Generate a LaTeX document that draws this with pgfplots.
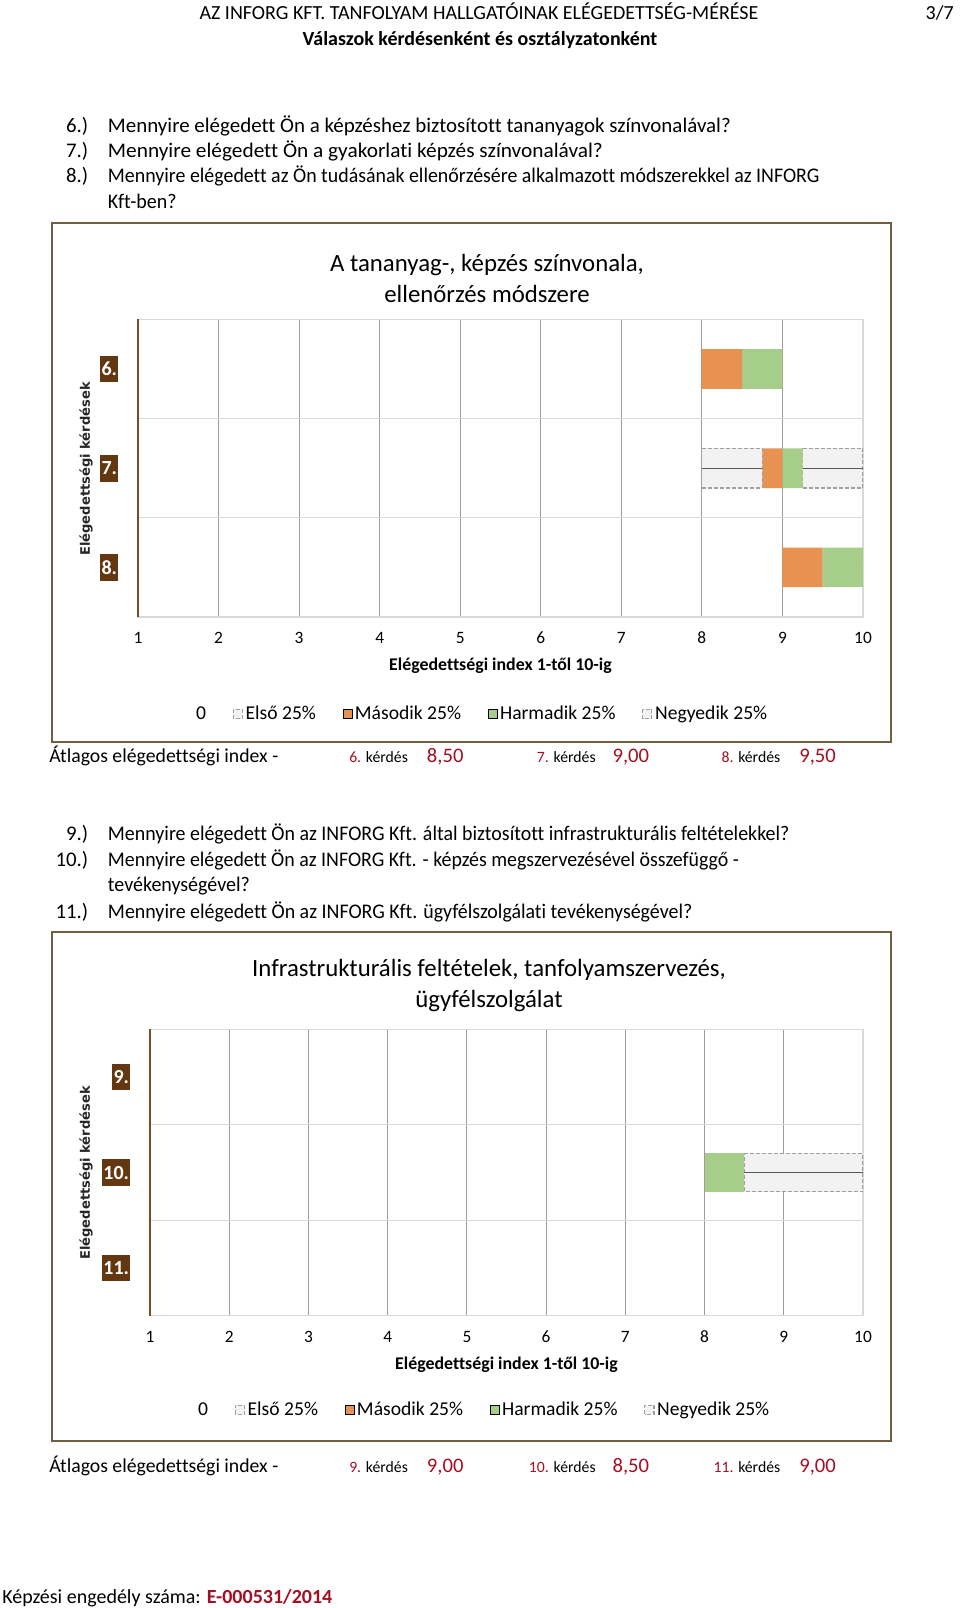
\documentclass[border=0pt]{standalone}
\usepackage{fontspec}
\setmainfont{Carlito}[Ligatures=NoCommon]
\newfontfamily\djv{DejaVu Sans}
\usepackage{pgfplots}
\pgfplotsset{compat=1.18}

\definecolor{framec}{RGB}{114,94,64}
\definecolor{catbox}{RGB}{99,55,15}
\definecolor{gridv}{RGB}{166,155,142}
\definecolor{gridh}{RGB}{217,217,217}
\definecolor{axisl}{RGB}{115,80,40}
\definecolor{q2}{RGB}{232,146,82}
\definecolor{q3}{RGB}{166,206,138}
\definecolor{wfill}{RGB}{242,242,242}
\definecolor{wdraw}{RGB}{160,160,160}
\definecolor{wline}{RGB}{89,89,89}
\definecolor{dred}{RGB}{165,15,35}

\pgfplotsset{
  boxchart/.style={
    scale only axis,
    xmin=1, xmax=10, ymin=0.5, ymax=3.5, y dir=reverse,
    xtick={1,...,10}, ytick={1,2,3},
    minor ytick={1.5,2.5},
    /pgf/number format/assume math mode=true,
    xmajorgrids=true, yminorgrids=true,
    major grid style={draw=gridv, line width=0.6pt},
    minor grid style={draw=gridh, line width=0.8pt},
    axis line style={draw=gridh, line width=0.8pt},
    tick style={draw=none},
    xticklabel style={font=\fontsize{13}{15}\selectfont, anchor=base, yshift=-20pt},
    yticklabel style={font=\bfseries\fontsize{15}{17}\selectfont, text=white,
      fill=catbox, inner xsep=1pt, inner ysep=0pt, minimum height=20pt,
      anchor=east, xshift=-14.5pt},
    xlabel={Elégedettségi index 1-től 10-ig},
    xlabel style={font=\bfseries\fontsize{13.4}{16}\selectfont,
      at={(axis description cs:0.5,0)}, anchor=base, yshift=-40pt},
    xbar stacked, bar width=0.4,
    legend columns=-1,
    legend style={draw=none, fill=none, font=\fontsize{14.7}{17}\selectfont,
      anchor=center, /tikz/every even column/.append style={column sep=18pt}},
    legend image code/.code={\draw[#1] (0pt,-3.4pt) rectangle (6.8pt,3.4pt);},
    after end axis/.code={\draw[axisl, line width=0.8pt]
      (rel axis cs:0,0) -- (rel axis cs:0,1);},
  },
  whisk/.style={fill=wfill, draw=wdraw, dash pattern=on 3pt off 1.5pt,
    line width=0.9pt,
    error bars/x dir=minus, error bars/x explicit, error bars/error mark=none,
    error bars/error bar style={wline, solid, line width=1pt}},
  basebar/.style={draw=none, fill=none, legend image code/.code={}},
}

\begin{document}
\begin{tikzpicture}
\fill[white] (0,0) rectangle (720pt,1206pt);

% ---- chart 1: tananyag, kepzes, ellenorzes
\begin{axis}[boxchart, at={(103.5pt,743.25pt)}, anchor=south west,
  width=543.75pt, height=223.125pt,
  yticklabels={6.,7.,8.},
  legend style={at={(0.474,-0.326)}}]
  % min, Q1-min, med-Q1, Q3-med, max-Q3
  \addplot[basebar] coordinates {(8,1) (8,2) (9,3)};
  \addplot[whisk] coordinates {(0,1) -= (0,0) (0.75,2) -= (0.75,0) (0,3) -= (0,0)};
  \addplot[fill=q2, draw=none] coordinates {(0.5,1) (0.25,2) (0.5,3)};
  \addplot[fill=q3, draw=none] coordinates {(0.5,1) (0.25,2) (0.5,3)};
  \addplot[whisk] coordinates {(0,1) -= (0,0) (0.75,2) -= (0.75,0) (0,3) -= (0,0)};
  \legend{0,Első 25\%,Második 25\%,Harmadik 25\%,Negyedik 25\%}
\end{axis}

% ---- chart 2: infrastruktura, szervezes, ugyfelszolgalat
\begin{axis}[boxchart, at={(112.5pt,219.2pt)}, anchor=south west,
  width=534.75pt, height=214.8pt,
  yticklabels={9.,10.,11.},
  legend style={at={(0.468,-0.329)}}]
  \addplot[basebar] coordinates {(9,1) (8,2) (9,3)};
  \addplot[whisk] coordinates {(0,1) -= (0,0) (0,2) -= (0,0) (0,3) -= (0,0)};
  \addplot[fill=q2, draw=none] coordinates {(0,1) (0,2) (0,3)};
  \addplot[fill=q3, draw=none] coordinates {(0,1) (0.5,2) (0,3)};
  \addplot[whisk] coordinates {(0,1) -= (0,0) (1.5,2) -= (1.5,0) (0,3) -= (0,0)};
  \legend{0,Első 25\%,Második 25\%,Harmadik 25\%,Negyedik 25\%}
\end{axis}

\begin{scope}[x=0.75pt, y=0.75pt, every node/.append style={inner xsep=0pt}]
  % header
  \node[anchor=base, font=\fontsize{15}{18}\selectfont] at (479,1588.4)
    {AZ INFORG KFT. TANFOLYAM HALLGATÓINAK ELÉGEDETTSÉG-MÉRÉSE};
  \node[anchor=base east, font=\fontsize{15}{18}\selectfont] at (954,1588.4) {3/7};
  \node[anchor=base, font=\bfseries\fontsize{15}{18}\selectfont] at (480,1562.9)
    {Válaszok kérdésenként és osztályzatonként};

  % questions 6-8
  \begin{scope}[every node/.append style={font=\fontsize{15.6}{19}\selectfont}]
    \node[anchor=base east] at (88.5,1475.1) {6.)};
    \node[anchor=base west] at (107.7,1475.1) {\scalebox{1.008}[1]{Mennyire elégedett Ön a képzéshez biztosított tananyagok színvonalával?}};
    \node[anchor=base east] at (88.5,1450.5) {7.)};
    \node[anchor=base west] at (107.7,1450.5) {\scalebox{1.025}[1]{Mennyire elégedett Ön a gyakorlati képzés színvonalával?}};
    \node[anchor=base east] at (88.5,1425.9) {8.)};
    \node[anchor=base west] at (107.7,1425.9) {\scalebox{0.956}[1]{Mennyire elégedett az Ön tudásának ellenőrzésére alkalmazott módszerekkel az INFORG}};
    \node[anchor=base west] at (107.7,1399.3) {\scalebox{0.96}[1]{Kft-ben?}};
  \end{scope}

  % frame 1
  \draw[framec, line width=1.5pt] (52,866) rectangle (891,1385);
  \node[anchor=base, font=\fontsize{18.6}{22}\selectfont] at (487,1336.5) {A tananyag-, képzés színvonala,};
  \node[anchor=base, font=\fontsize{18.6}{22}\selectfont] at (487,1305.7) {ellenőrzés módszere};
  \node[rotate=90, font=\djv\bfseries\fontsize{9.8}{11}\selectfont, text=black!85] at (86,1139) {Elégedettségi kérdések};

  % average row 1
  \begin{scope}[every node/.append style={font=\fontsize{14.8}{18}\selectfont}]
    \node[anchor=base west] at (49,845.7) {Átlagos elégedettségi index -};
    \node[anchor=base east, font=\fontsize{11.8}{14}\selectfont] at (408.2,845.7) {\textcolor{dred}{6.} kérdés};
    \node[anchor=base west, text=dred, font=\fontsize{15.5}{18}\selectfont] at (426.7,845.7) {8,50};
    \node[anchor=base east, font=\fontsize{11.8}{14}\selectfont] at (595.9,845.7) {\textcolor{dred}{7.} kérdés};
    \node[anchor=base west, text=dred, font=\fontsize{15.5}{18}\selectfont] at (612.3,845.7) {9,00};
    \node[anchor=base east, font=\fontsize{11.8}{14}\selectfont] at (780.5,845.7) {\textcolor{dred}{8.} kérdés};
    \node[anchor=base west, text=dred, font=\fontsize{15.5}{18}\selectfont] at (799,845.7) {9,50};
  \end{scope}

  % questions 9-11
  \begin{scope}[every node/.append style={font=\fontsize{15.6}{19}\selectfont}]
    \node[anchor=base east] at (88.5,767.5) {9.)};
    \node[anchor=base west] at (107.7,767.5) {\scalebox{0.957}[1]{Mennyire elégedett Ön az INFORG Kft. által biztosított infrastrukturális feltételekkel?}};
    \node[anchor=base east] at (88.5,741.8) {10.)};
    \node[anchor=base west] at (107.7,741.8) {\scalebox{0.956}[1]{Mennyire elégedett Ön az INFORG Kft. - képzés megszervezésével összefüggő -}};
    \node[anchor=base west] at (107.7,716.2) {\scalebox{0.96}[1]{tevékenységével?}};
    \node[anchor=base east] at (88.5,689.5) {11.)};
    \node[anchor=base west] at (107.7,689.5) {\scalebox{0.958}[1]{Mennyire elégedett Ön az INFORG Kft. ügyfélszolgálati tevékenységével?}};
  \end{scope}

  % frame 2
  \draw[framec, line width=1.5pt] (52,167) rectangle (891,676);
  \node[anchor=base, font=\fontsize{18.6}{22}\selectfont] at (489,631.1) {Infrastrukturális feltételek, tanfolyamszervezés,};
  \node[anchor=base, font=\fontsize{18.6}{22}\selectfont] at (489,600.1) {ügyfélszolgálat};
  \node[rotate=90, font=\djv\bfseries\fontsize{9.8}{11}\selectfont, text=black!85] at (86,435) {Elégedettségi kérdések};

  % average row 2
  \begin{scope}[every node/.append style={font=\fontsize{14.8}{18}\selectfont}]
    \node[anchor=base west] at (49,135) {Átlagos elégedettségi index -};
    \node[anchor=base east, font=\fontsize{11.8}{14}\selectfont] at (408.2,135) {\textcolor{dred}{9.} kérdés};
    \node[anchor=base west, text=dred, font=\fontsize{15.5}{18}\selectfont] at (426.7,135) {9,00};
    \node[anchor=base east, font=\fontsize{11.8}{14}\selectfont] at (595.9,135) {\textcolor{dred}{10.} kérdés};
    \node[anchor=base west, text=dred, font=\fontsize{15.5}{18}\selectfont] at (612.3,135) {8,50};
    \node[anchor=base east, font=\fontsize{11.8}{14}\selectfont] at (780.5,135) {\textcolor{dred}{11.} kérdés};
    \node[anchor=base west, text=dred, font=\fontsize{15.5}{18}\selectfont] at (799,135) {9,00};
  \end{scope}

  % footer
  \node[anchor=base west, font=\fontsize{15}{18}\selectfont] at (2,4.6)
    {Képzési engedély száma: \textcolor{dred}{\bfseries E-000531/2014}};
\end{scope}

\pgfresetboundingbox
\useasboundingbox (0,0) rectangle (720pt,1206pt);
\end{tikzpicture}
\end{document}
